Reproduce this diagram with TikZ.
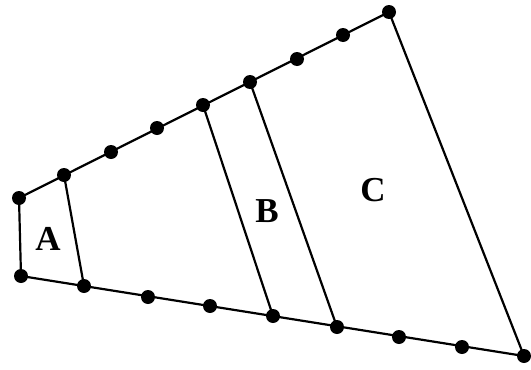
\documentclass[tikz,border=0pt]{standalone}
\usepackage{fontspec}
\setmainfont{Liberation Serif}
\begin{document}
\begin{tikzpicture}[x=1pt,y=-1pt,
  dot/.style={circle,fill=black,inner sep=0pt,minimum size=14pt},
  edge/.style={line width=2.2pt,black},
  lab/.style={font=\fontsize{35}{38}\selectfont\bfseries,inner sep=0pt}]
\useasboundingbox (0,0) rectangle (531,370);
% top dots
\foreach \i/\x/\y in {1/19/198,2/64/175,3/111/152,4/157/128,5/203/105,6/250/82,7/297/59,8/343/35,9/389/12}
  \coordinate (t\i) at (\x,\y);
\foreach \i/\x/\y in {1/21/276,2/84/286,3/148/297,4/210/306,5/273/316,6/337/327,7/399/337,8/462/347,9/524/356}
  \coordinate (b\i) at (\x,\y);
\draw[edge] (t1) -- (t9) -- (b9) -- (b1) -- cycle;
\draw[edge] (t2) -- (b2);
\draw[edge] (t5) -- (b5);
\draw[edge] (t6) -- (b6);
\foreach \i in {1,...,9} {\node[dot] at (t\i) {}; \node[dot] at (b\i) {};}
\node[lab] (A) at (48,239) {A};
\node[lab] (B) at (267,211) {B};
\node[lab] (C) at (373,190) {C};
\end{tikzpicture}
\end{document}
